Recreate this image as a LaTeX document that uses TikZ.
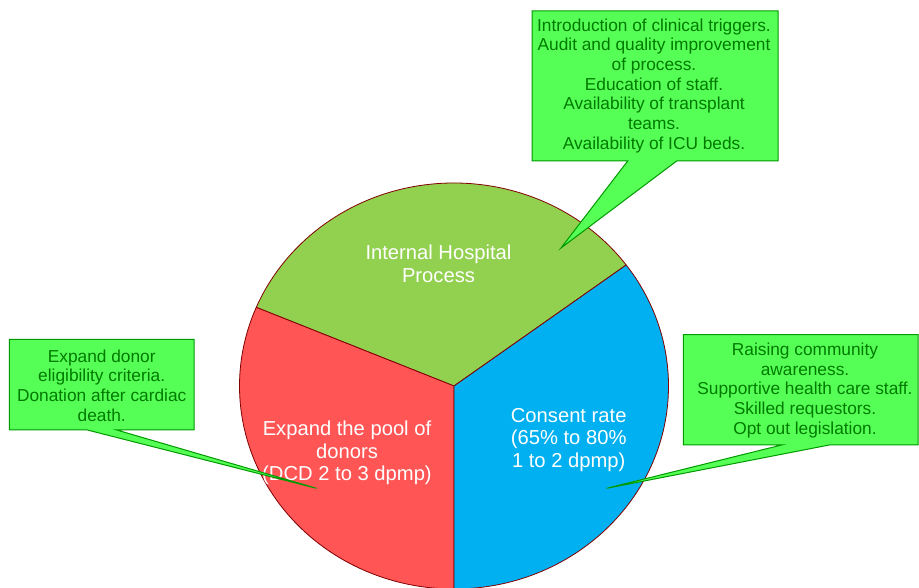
\documentclass[tikz,border=0pt]{standalone}
\usepackage{fontspec}
\setmainfont{Liberation Sans}
\definecolor{slicegreen}{HTML}{92D050}
\definecolor{slicered}{HTML}{FF5555}
\definecolor{sliceblue}{HTML}{00B0F0}
\definecolor{pieline}{HTML}{800000}
\definecolor{callfill}{HTML}{55FF55}
\definecolor{callline}{HTML}{009900}
\definecolor{calltext}{HTML}{007A00}
\tikzset{
  slice/.style={draw=pieline, line width=0.8pt, line join=round},
  callout/.style={fill=callfill, draw=callline, line width=1pt, line join=miter},
  slicelabel/.style={text=white, align=center, inner sep=0pt, font=\fontsize{20.2}{22.7}\selectfont},
  calllabel/.style={text=calltext, align=center, inner sep=0pt, font=\fontsize{17.3}{19.7}\selectfont},
}
\begin{document}
\begin{tikzpicture}[x=1pt,y=1pt]
\useasboundingbox (0,0) rectangle (919,588);
% pie
\coordinate (c) at (454,202);
\path[slice, fill=slicegreen] (c) -- ++(36.6:214.5pt and 203pt)
  arc[start angle=36.6, end angle=157.2, x radius=214.5pt, y radius=203pt] -- cycle;
\path[slice, fill=slicered] (c) -- ++(157.2:214.5pt and 203pt)
  arc[start angle=157.2, end angle=270, x radius=214.5pt, y radius=203pt] -- cycle;
\path[slice, fill=sliceblue] (c) -- ++(270:214.5pt and 203pt)
  arc[start angle=270, end angle=396.6, x radius=214.5pt, y radius=203pt] -- cycle;
% slice labels
\node[slicelabel] (ihp) at (438.5,324) {Internal Hospital\\Process};
\node[slicelabel] (pool) at (347,135) {Expand the pool of\\donors\\(DCD 2 to 3 dpmp)};
\node[slicelabel] (cons) at (568.7,148) {Consent rate\\(65\% to 80\%\\1 to 2 dpmp)};
% callouts
\path[callout] (532,577) -- (778,577) -- (778,427) -- (676.7,427) -- (561,340)
  -- (627.7,427) -- (532,427) -- cycle;
\node[calllabel] (ctop) at (654,502.3) {Introduction of clinical triggers.\\Audit and quality improvement\\of process.\\Education of staff.\\Availability of transplant\\teams.\\Availability of ICU beds.};
\path[callout] (9.3,248.7) -- (194,248.7) -- (194,158) -- (116.7,158) -- (316.5,99.7)
  -- (87.3,158) -- (9.3,158) -- cycle;
\node[calllabel] (cleft) at (101.7,202.6) {Expand donor\\eligibility criteria.\\Donation after cardiac\\death.};
\path[callout] (683.3,253.3) -- (918,253.3) -- (918,143) -- (829.3,143) -- (606.7,99.7)
  -- (781.7,143) -- (683.3,143) -- cycle;
\node[calllabel] (cright) at (805,197.5) {Raising community\\awareness.\\Supportive health care staff.\\Skilled requestors.\\Opt out legislation.};
\end{tikzpicture}
\end{document}
